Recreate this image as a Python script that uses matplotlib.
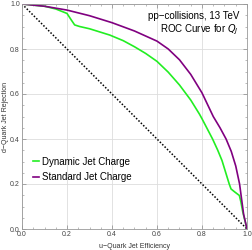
import numpy as np
import matplotlib
matplotlib.use("Agg")
import matplotlib.pyplot as plt
from matplotlib.ticker import MultipleLocator, FormatStrFormatter

plt.rcParams['font.family'] = ['Liberation Sans', 'DejaVu Sans']

# ROC curves
eff_dyn = [0.0, 0.1, 0.15, 0.2, 0.219, 0.234, 0.256, 0.3, 0.39, 0.45, 0.5, 0.55, 0.6, 0.65, 0.7,
           0.75, 0.789, 0.8, 0.847, 0.87, 0.889, 0.921, 0.929, 0.945, 0.966, 0.973, 0.981, 1.0]
rej_dyn = [1.0, 0.99, 0.978, 0.958, 0.929, 0.907, 0.9, 0.89, 0.862, 0.837, 0.81, 0.78, 0.745, 0.697, 0.64,
           0.573, 0.51, 0.49, 0.4, 0.35, 0.304, 0.2, 0.178, 0.165, 0.149, 0.12, 0.077, 0.0]

eff_std = [0.0, 0.1, 0.2, 0.3, 0.4, 0.5, 0.6, 0.65, 0.7, 0.75, 0.8, 0.85, 0.88, 0.907,
           0.93, 0.95, 0.967, 0.975, 0.985, 1.0]
rej_std = [1.0, 0.99, 0.973, 0.948, 0.917, 0.88, 0.835, 0.8, 0.752, 0.687, 0.605, 0.5, 0.45, 0.4,
           0.345, 0.28, 0.2, 0.14, 0.065, 0.0]

diag_x = [0.0, 1.0]
diag_y = [1.0, 0.0]

fig = plt.figure(figsize=(2.53, 2.50), dpi=100)
ax = fig.add_axes([22 / 253, 21 / 250, 225 / 253, 225 / 250])

ax.plot(diag_x, diag_y, color='black', linestyle=(0, (1, 1.2)), linewidth=1.1)
ax.plot(eff_dyn, rej_dyn, color='#22ee22', linewidth=1.2, label='Dynamic Jet Charge')
ax.plot(eff_std, rej_std, color='#800080', linewidth=1.2, label='Standard Jet Charge')

ax.set_xlim(0, 1)
ax.set_ylim(0, 1)
for a in (ax.xaxis, ax.yaxis):
    a.set_major_locator(MultipleLocator(0.2))
    a.set_minor_locator(MultipleLocator(0.05))
    a.set_major_formatter(FormatStrFormatter('%.1f'))
ax.tick_params(which='both', direction='in', top=True, right=True, color='#888888',
               labelsize=5, labelcolor='#444444', pad=1.5)
ax.tick_params(which='major', length=3, width=0.5)
ax.tick_params(which='minor', length=1.5, width=0.4)
ax.grid(True, which='major', color='#dddddd', linewidth=0.6)
for s in ax.spines.values():
    s.set_color('#999999')
    s.set_linewidth(0.6)

ax.set_xlabel('u\u2212Quark Jet Efficiency', fontsize=5, color='#333333', va='center')
ax.set_ylabel('d\u2212Quark Jet Rejection', fontsize=5, color='#333333', va='center')
ax.xaxis.set_label_coords(0.5, -0.078)
ax.yaxis.set_label_coords(-0.074, 0.5)

ax.text(0.965, 0.945, 'pp\u2212collisions, 13 TeV', transform=ax.transAxes,
        ha='right', va='center', fontsize=7)
ax.text(0.965, 0.885, 'ROC Curve for $Q_J$', transform=ax.transAxes,
        ha='right', va='center', fontsize=7)

leg = ax.legend(loc='center left', bbox_to_anchor=(0.02, 0.265), fontsize=7, frameon=False,
                handlelength=0.6, handletextpad=0.3, labelspacing=0.55, borderaxespad=0.3)

fig.savefig('out.png', dpi=100)
